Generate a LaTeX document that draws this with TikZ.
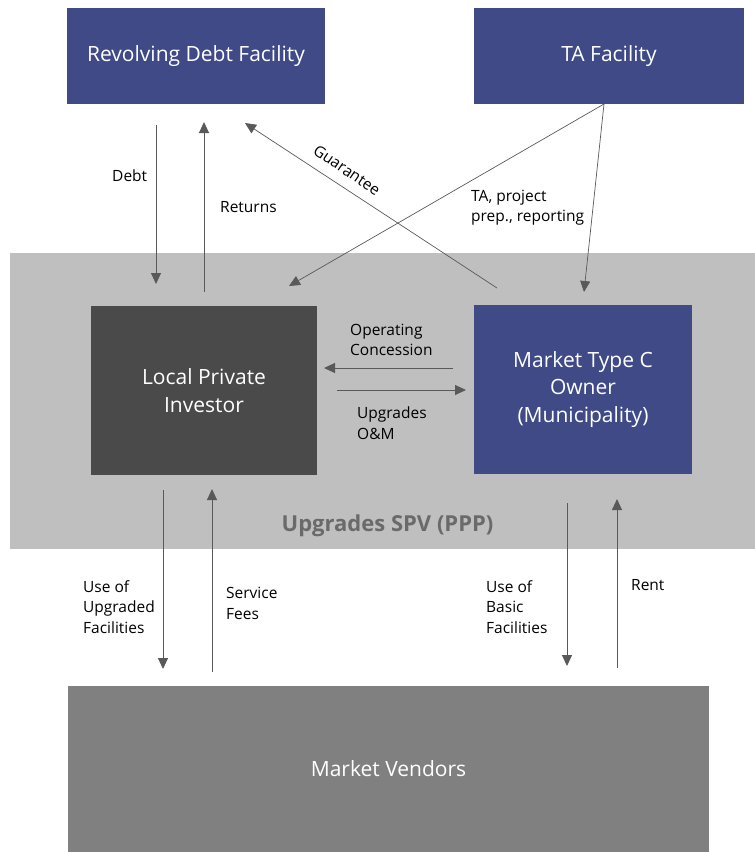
\documentclass[tikz,border=0pt]{standalone}
\usepackage{fontspec}
\setmainfont{Open Sans}
\usetikzlibrary{arrows.meta}
\definecolor{navy}{HTML}{3F4A87}
\definecolor{charcoal}{HTML}{4A4A4A}
\definecolor{spvgray}{HTML}{BFBFBF}
\definecolor{vendorgray}{HTML}{808080}
\definecolor{linegray}{HTML}{595959}
\definecolor{spvtext}{HTML}{6A6A6A}
\begin{document}
\begin{tikzpicture}[x=1pt,y=-1pt,
  box/.style={rectangle, inner sep=0pt, text=white, align=center,
    font=\fontsize{21}{27.5}\selectfont},
  flow/.style={draw=linegray, line width=0.9pt,
    -{Triangle[length=11pt,width=10pt]}},
  lbl/.style={anchor=west, inner sep=0pt, align=left,
    font=\fontsize{15.5}{20.5}\selectfont}]
\useasboundingbox (0,0) rectangle (755,852);

% boxes
\node[box, fill=spvgray, minimum width=745pt, minimum height=296pt] (spv) at (382.5,401) {};
\node[box, fill=navy, minimum width=258pt, minimum height=96pt] (rdf) at (196,56) {Revolving Debt Facility};
\node[box, fill=navy, minimum width=270pt, minimum height=96pt] (ta) at (609,56) {TA Facility};
\node[box, fill=charcoal, minimum width=226pt, minimum height=169pt] (lpi) at (204,390.5) {Local Private\\Investor};
\node[box, fill=navy, minimum width=218pt, minimum height=169pt] (own) at (583,389.5) {Market Type C\\Owner\\(Municipality)};
\node[box, fill=vendorgray, minimum width=641pt, minimum height=166pt] (ven) at (388.5,769) {Market Vendors};
\node[inner sep=0pt, text=spvtext, font=\fontsize{22}{26}\selectfont\bfseries] (spvlbl) at (387.5,526) {Upgrades SPV (PPP)};

% arrow end points
\coordinate (debtA) at (156,125);   \coordinate (debtB) at (156,284);
\coordinate (retA)  at (204,292);   \coordinate (retB)  at (204,122);
\coordinate (guaA)  at (497,288);   \coordinate (guaB)  at (245,123);
\coordinate (taO)   at (604,104);
\coordinate (taL)   at (289,286);   \coordinate (taM)   at (584,292);
\coordinate (ocA)   at (453,368);   \coordinate (ocB)   at (324,368);
\coordinate (omA)   at (337,390);   \coordinate (omB)   at (466,390);
\coordinate (uufA)  at (163,490);   \coordinate (uufB)  at (163,669);
\coordinate (sfA)   at (212,672);   \coordinate (sfB)   at (212,489);
\coordinate (ubfA)  at (567,503);   \coordinate (ubfB)  at (567,666);
\coordinate (rentA) at (617,668);   \coordinate (rentB) at (617,499);

% flows
\draw[flow] (debtA) -- (debtB);
\draw[flow] (retA) -- (retB);
\draw[flow, line width=0.7pt] (guaA) -- (guaB);
\draw[flow, line width=0.7pt] (taO) -- (taL);
\draw[flow, line width=0.7pt] (taO) -- (taM);
\draw[flow] (ocA) -- (ocB);
\draw[flow] (omA) -- (omB);
\draw[flow] (uufA) -- (uufB);
\draw[flow] (sfA) -- (sfB);
\draw[flow] (ubfA) -- (ubfB);
\draw[flow] (rentA) -- (rentB);

% flow labels
\node[lbl] (ldebt) at (112,176) {Debt};
\node[lbl] (lret) at (220,207) {Returns};
\node[lbl, anchor=center, rotate=-34] (lgua) at (347,170) {Guarantee};
\node[lbl] (lta) at (471,207.5) {TA, project\\prep., reporting};
\node[lbl] (loc) at (350,340) {Operating\\Concession};
\node[lbl] (lom) at (357,423) {Upgrades\\O\&M};
\node[lbl] (luuf) at (83,607) {Use of\\Upgraded\\Facilities};
\node[lbl] (lsf) at (226,603.5) {Service\\Fees};
\node[lbl] (lubf) at (486,607) {Use of\\Basic\\Facilities};
\node[lbl] (lrent) at (631,585) {Rent};
\end{tikzpicture}
\end{document}
